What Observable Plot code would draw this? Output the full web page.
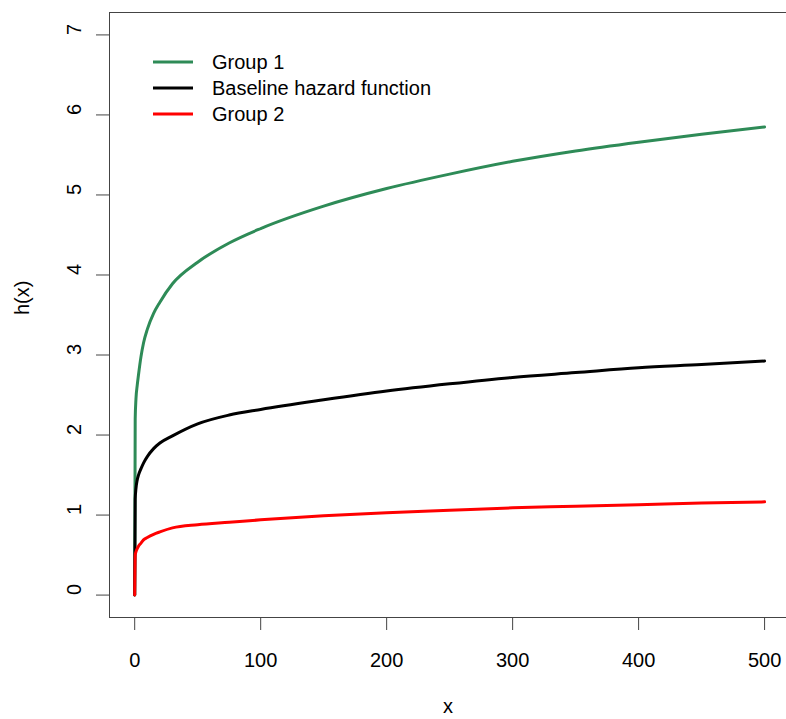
<!DOCTYPE html>
<html><head><meta charset="utf-8">
<script src="https://cdn.jsdelivr.net/npm/d3@7"></script>
<script src="https://cdn.jsdelivr.net/npm/@observablehq/plot@0.6"></script>
<style>body{margin:0;background:#fff} #chart{position:relative;width:786px;height:719px}</style>
</head><body><div id="chart"></div>
<script>
const xValues = [0, 0.4, 1, 2, 3, 5, 7, 10, 15, 20, 30, 50, 75, 100, 150, 200, 250, 300, 350, 400, 450, 500];
const group1 = [0, 2.2, 2.45, 2.62, 2.75, 2.98, 3.15, 3.32, 3.52, 3.66, 3.89, 4.16, 4.4, 4.58, 4.86, 5.08, 5.26, 5.42, 5.55, 5.66, 5.76, 5.85];
const baseline = [0, 1.2, 1.33, 1.44, 1.5, 1.58, 1.65, 1.73, 1.83, 1.9, 1.99, 2.14, 2.25, 2.32, 2.44, 2.55, 2.64, 2.72, 2.78, 2.84, 2.88, 2.925];
const group2 = [0, 0.5, 0.54, 0.58, 0.61, 0.65, 0.69, 0.72, 0.76, 0.79, 0.84, 0.88, 0.91, 0.94, 0.99, 1.03, 1.06, 1.09, 1.11, 1.13, 1.15, 1.165];
const seriesNames = ["Group 1", "Baseline hazard function", "Group 2"];
const seriesColors = ["#2E8B57", "#000000", "#FF0000"];
const xTicks = [0, 100, 200, 300, 400, 500];
const yTicks = [0, 1, 2, 3, 4, 5, 6, 7];
const xDomain = [-20, 517.4];
const yDomain = [-0.28, 7.28];

const rows = [];
[group1, baseline, group2].forEach((vals, i) =>
  vals.forEach((v, j) => rows.push({series: seriesNames[i], x: xValues[j], h: v})));

const font = "'Liberation Sans', Arial, sans-serif";
const chart = Plot.plot({
  width: 786, height: 719,
  marginLeft: 109, marginRight: 0, marginTop: 12, marginBottom: 102,
  style: {fontFamily: font, fontSize: "20px", color: "#000", background: "#fff"},
  x: {domain: xDomain},
  y: {domain: yDomain},
  color: {domain: seriesNames, range: seriesColors},
  marks: [
    Plot.axisX({ticks: xTicks, tickSize: 13, tickPadding: 22, label: null, fontSize: 20, stroke: "#444"}),
    Plot.axisY({ticks: yTicks, tickSize: 13, tickFormat: () => "", label: null, stroke: "#444"}),
    Plot.text(yTicks, {y: d => d, text: d => String(d), frameAnchor: "left", dx: -35, rotate: -90, fontSize: 20}),
    Plot.text(["x"], {text: d => d, frameAnchor: "bottom", dy: 95, lineAnchor: "bottom", fontSize: 20}),
    Plot.text(["h(x)"], {text: d => d, frameAnchor: "left", dx: -81, rotate: -90, lineAnchor: "bottom", fontSize: 20}),
    Plot.ruleX([xDomain[0]], {stroke: "#444"}),
    Plot.ruleY(yDomain, {stroke: "#444"}),
    Plot.line(rows, {x: "x", y: "h", z: "series", stroke: "series", strokeWidth: 3, curve: "monotone-x"})
  ]
});
document.getElementById("chart").appendChild(chart);

const leg = d3.select(chart).append("g").attr("font-family", font).attr("font-size", 20).attr("text-anchor", "start");
seriesNames.forEach((name, i) => {
  const g = leg.append("g").attr("transform", `translate(153, ${62 + i * 26})`);
  g.append("line").attr("x1", 0).attr("x2", 40).attr("stroke", seriesColors[i]).attr("stroke-width", 3);
  g.append("text").attr("x", 59).attr("dy", "0.35em").attr("fill", "#000").attr("text-anchor", "start").text(name);
});
</script>
</body></html>
